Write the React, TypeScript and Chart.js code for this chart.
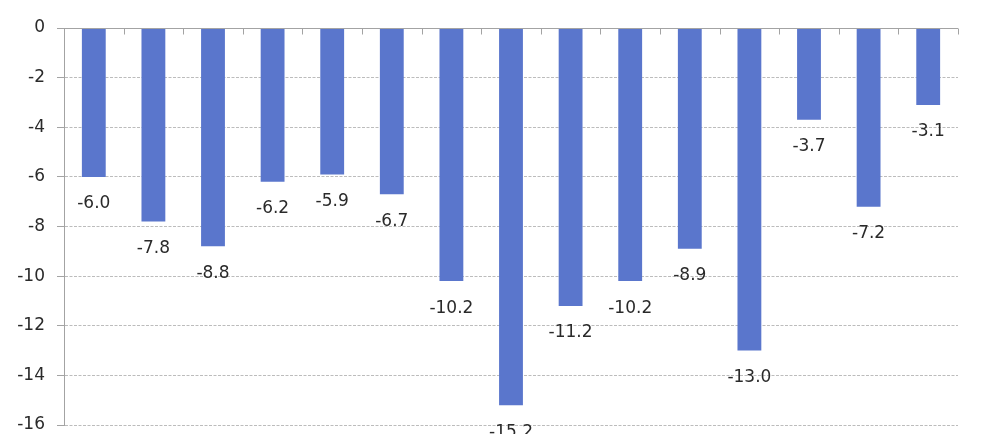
import React, { useEffect, useRef } from "react";
import { Chart, registerables } from "chart.js";

Chart.register(...registerables);

const categories = ["1", "2", "3", "4", "5", "6", "7", "8", "9", "10", "11", "12", "13", "14", "15"];
const values = [-6.0, -7.8, -8.8, -6.2, -5.9, -6.7, -10.2, -15.2, -11.2, -10.2, -8.9, -13.0, -3.7, -7.2, -3.1];
const yTicks = [0, -2, -4, -6, -8, -10, -12, -14, -16];

const BAR_COLOR = "#5a76cc";
const AXIS_COLOR = "#a3a3a3";
const GRID_COLOR = "#bcbcbc";
const TEXT_COLOR = "#2a2a2a";
const FONT_FAMILY = "'DejaVu Sans', 'Open Sans', sans-serif";

const overlayPlugin = {
  id: "overlay",
  afterDatasetsDraw(chart: any) {
    const { ctx, chartArea, scales } = chart;
    const xs = scales.x;
    const ys = scales.y;
    const y0 = Math.round(ys.getPixelForValue(0)) + 0.5;
    ctx.save();
    ctx.strokeStyle = AXIS_COLOR;
    ctx.lineWidth = 1;
    ctx.setLineDash([]);
    ctx.beginPath();
    ctx.moveTo(chartArea.left - 7, y0);
    ctx.lineTo(chartArea.right, y0);
    for (let i = 0; i <= categories.length; i++) {
      const px = Math.round(xs.getPixelForValue(i - 0.5)) + 0.5;
      ctx.moveTo(px, y0);
      ctx.lineTo(px, y0 + 6);
    }
    ctx.stroke();

    const meta = chart.getDatasetMeta(0);
    ctx.fillStyle = TEXT_COLOR;
    ctx.font = `17px ${FONT_FAMILY}`;
    ctx.textAlign = "center";
    ctx.textBaseline = "middle";
    meta.data.forEach((bar: any, i: number) => {
      ctx.fillText(values[i].toFixed(1), bar.x, bar.y + 27);
    });
    ctx.restore();
  },
};

export default function App() {
  const ref = useRef<HTMLCanvasElement>(null);
  useEffect(() => {
    if (!ref.current) return;
    const chart = new Chart(ref.current, {
      type: "bar",
      data: {
        labels: categories,
        datasets: [
          {
            data: values,
            backgroundColor: BAR_COLOR,
            borderWidth: 0,
            categoryPercentage: 1,
            barPercentage: 0.4,
          },
        ],
      },
      options: {
        animation: false,
        responsive: false,
        layout: { padding: { left: 0, right: 40, top: 28, bottom: 55 } },
        plugins: { legend: { display: false }, tooltip: { enabled: false } },
        scales: {
          x: {
            display: false,
            offset: true,
            grid: { display: false },
          },
          y: {
            min: -16,
            max: 0,
            afterFit(scale: any) {
              scale.width = 64;
            },
            afterBuildTicks(scale: any) {
              scale.ticks = yTicks.map((v) => ({ value: v }));
            },
            ticks: {
              stepSize: 2,
              padding: 12,
              color: TEXT_COLOR,
              font: { family: FONT_FAMILY, size: 17 },
            },
            grid: {
              color: GRID_COLOR,
              lineWidth: 1,
              tickLength: 7,
              tickColor: AXIS_COLOR,
            },
            border: { display: true, color: AXIS_COLOR, width: 1, dash: [3, 1.5] },
          },
        },
      },
      plugins: [overlayPlugin],
    } as any);
    return () => chart.destroy();
  }, []);
  return (
    <div style={{ position: "absolute", left: 0, top: 0, width: 998, height: 434, overflow: "hidden", background: "#fff" }}>
      <canvas ref={ref} width={998} height={480} style={{ display: "block" }} />
    </div>
  );
}
